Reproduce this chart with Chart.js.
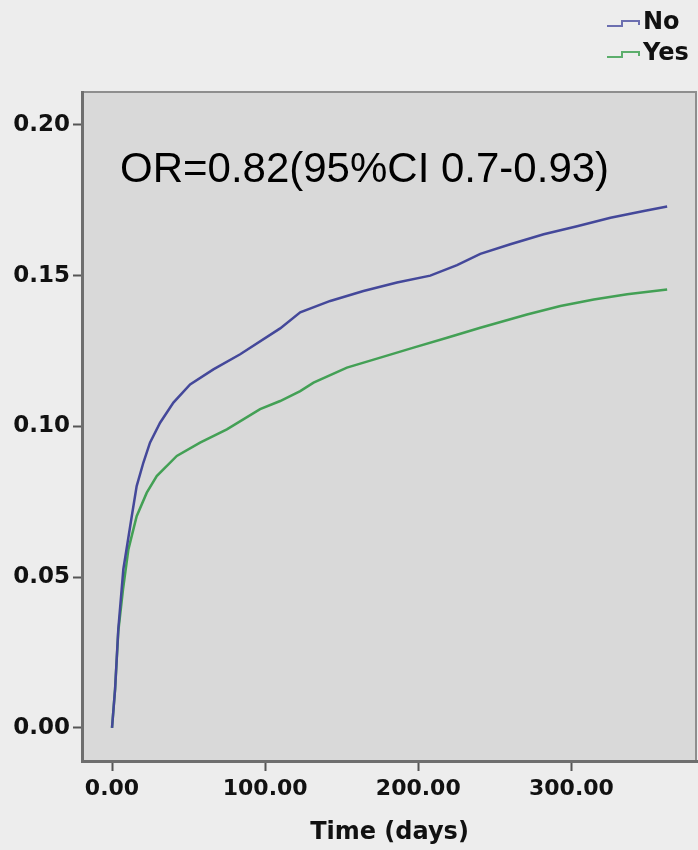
<!DOCTYPE html>
<html>
<head>
<meta charset="utf-8">
<script src="https://cdn.jsdelivr.net/npm/chart.js@4/dist/chart.umd.min.js"></script>
<style>
  html, body { margin: 0; padding: 0; background: #ededed; }
  #wrap { width: 698px; height: 850px; }
</style>
</head>
<body>
<div id="wrap"><canvas id="c" width="698" height="850"></canvas></div>
<script>
// ---- data ----
const seriesNames = ['No', 'Yes'];
const noDays  = [0, 2.0, 4.1, 7.4, 12.9, 16.1, 20.5, 24.8, 31.4, 40.1, 51.0, 66.2, 83.7, 109.8, 122.9, 142.5, 164.2, 186.1, 207.8, 225.3, 240.5, 260.1, 281.9, 303.7, 325.5, 347.3, 362.5];
const noRisk  = [0, 0.0128, 0.0327, 0.0526, 0.0702, 0.0802, 0.0880, 0.0946, 0.1012, 0.1079, 0.1139, 0.1189, 0.1239, 0.1325, 0.1378, 0.1416, 0.1449, 0.1477, 0.1500, 0.1535, 0.1572, 0.1604, 0.1637, 0.1664, 0.1692, 0.1714, 0.1729];
const yesDays = [0, 2.0, 4.1, 7.2, 10.7, 16.1, 22.7, 29.2, 42.3, 57.5, 75.0, 96.7, 109.8, 122.9, 131.6, 153.4, 175.2, 196.9, 218.8, 240.5, 271.0, 292.8, 314.6, 336.4, 362.5];
const yesRisk = [0, 0.0128, 0.0320, 0.0460, 0.0592, 0.0702, 0.0780, 0.0835, 0.0902, 0.0946, 0.0990, 0.1057, 0.1084, 0.1117, 0.1145, 0.1195, 0.1228, 0.1261, 0.1294, 0.1327, 0.1371, 0.1399, 0.1421, 0.1438, 0.1454];
const xTickValues = [0, 100, 200, 300];
const yTickValues = [0, 0.05, 0.10, 0.15, 0.20];
const xTitle = 'Time (days)';
const annotationText = 'OR=0.82(95%CI 0.7-0.93)';

const colors = ['#44489a', '#43a055'];
const legendColors = ['#6c6fb0', '#5cae6c'];

const toPoints = (xs, ys) => xs.map((x, i) => ({x: x, y: ys[i]}));

const bgPlugin = {
  id: 'bg',
  beforeDraw(chart) {
    const {ctx, chartArea: a} = chart;
    ctx.save();
    ctx.fillStyle = '#ededed';
    ctx.fillRect(0, 0, chart.width, chart.height);
    ctx.fillStyle = '#d9d9d9';
    ctx.fillRect(a.left, a.top, a.right - a.left, a.bottom - a.top);
    ctx.strokeStyle = '#8e8e8e';
    ctx.lineWidth = 2;
    ctx.beginPath();
    ctx.moveTo(a.left, a.top);
    ctx.lineTo(a.right - 1, a.top);
    ctx.lineTo(a.right - 1, a.bottom);
    ctx.stroke();
    ctx.restore();
  }
};

const overlayPlugin = {
  id: 'overlay',
  afterDraw(chart) {
    const {ctx} = chart;
    ctx.save();
    // annotation text
    ctx.fillStyle = '#000';
    ctx.font = '42px "Liberation Sans", Arial, sans-serif';
    ctx.textAlign = 'left';
    ctx.textBaseline = 'middle';
    ctx.fillText(annotationText, 120, 170);
    // legend
    ctx.font = 'bold 24px "DejaVu Sans", sans-serif';
    chart.data.datasets.forEach((ds, i) => {
      const y = 23 + i * 31;
      const x0 = 607;
      ctx.strokeStyle = legendColors[i];
      ctx.lineWidth = 2;
      ctx.beginPath();
      ctx.moveTo(x0, y + 3);
      ctx.lineTo(x0 + 15, y + 3);
      ctx.lineTo(x0 + 15, y - 2);
      ctx.lineTo(x0 + 32, y - 2);
      ctx.lineTo(x0 + 32, y + 2);
      ctx.stroke();
      ctx.fillStyle = '#111';
      ctx.fillText(ds.label, 643, y);
    });
    ctx.restore();
  }
};

new Chart(document.getElementById('c'), {
  type: 'line',
  data: {
    datasets: [
      { label: seriesNames[0], data: toPoints(noDays, noRisk), borderColor: colors[0], borderWidth: 2.5, pointRadius: 0, tension: 0, fill: false },
      { label: seriesNames[1], data: toPoints(yesDays, yesRisk), borderColor: colors[1], borderWidth: 2.5, pointRadius: 0, tension: 0, fill: false }
    ]
  },
  options: {
    responsive: false,
    animation: false,
    devicePixelRatio: 1,
    layout: { padding: { top: 92, right: 1, left: 0, bottom: 0 } },
    plugins: { legend: { display: false }, tooltip: { enabled: false } },
    scales: {
      x: {
        type: 'linear',
        min: -19.6,
        max: 382,
        afterFit(s) { s.height = 89; },
        afterBuildTicks(s) { s.ticks = xTickValues.map(v => ({value: v})); },
        ticks: {
          color: '#111',
          font: { family: '"DejaVu Sans", sans-serif', size: 22, weight: 'bold' },
          padding: 5,
          maxRotation: 0,
          callback: v => Number(v).toFixed(2)
        },
        grid: { drawOnChartArea: false, drawTicks: true, tickLength: 10, tickColor: '#555', tickWidth: 2 },
        border: { display: true, color: '#6e6e6e', width: 3 },
        title: {
          display: true,
          text: xTitle,
          color: '#111',
          font: { family: '"DejaVu Sans", sans-serif', size: 24, weight: 'bold' },
          padding: { top: 0, bottom: 3 }
        }
      },
      y: {
        type: 'linear',
        min: -0.011,
        max: 0.2109,
        afterFit(s) { s.width = 82; },
        afterBuildTicks(s) { s.ticks = yTickValues.map(v => ({value: v})); },
        ticks: {
          color: '#111',
          font: { family: '"DejaVu Sans", sans-serif', size: 23, weight: 'bold' },
          padding: 3,
          callback: v => Number(v).toFixed(2)
        },
        grid: { drawOnChartArea: false, drawTicks: true, tickLength: 9, tickColor: '#555', tickWidth: 2 },
        border: { display: true, color: '#6e6e6e', width: 3 }
      }
    }
  },
  plugins: [bgPlugin, overlayPlugin]
});
</script>
</body>
</html>
